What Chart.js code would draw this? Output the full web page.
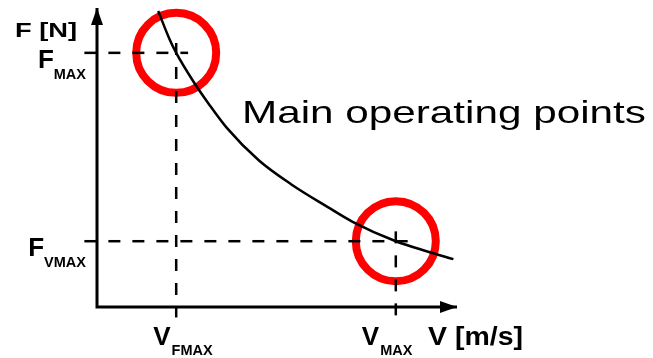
<!DOCTYPE html>
<html>
<head>
<meta charset="utf-8">
<script src="https://cdn.jsdelivr.net/npm/chart.js@4.4.0/dist/chart.umd.min.js"></script>
<style>
html, body { margin: 0; padding: 0; background: #fff; }
#wrap { width: 653px; height: 358px; }
</style>
</head>
<body>
<div id="wrap"><canvas id="chart" width="653" height="358"></canvas></div>
<script>
// force-speed curve (arbitrary units)
const speed = [1.7, 2.0, 2.2, 2.7, 3.1, 3.6, 4.5, 5.4, 6.4, 7.1, 8.3, 9.2, 9.9];
const force = [9.9, 9.0, 8.5, 7.5, 6.8, 6.0, 4.9, 4.1, 3.35, 2.85, 2.2, 1.85, 1.6];

// the two main operating points
const opSpeed = [2.2, 8.3];
const opForce = [8.5, 2.2];

// tick labels (main letter + subscript)
const fLabels = [['F', 'MAX'], ['F', 'VMAX']];
const vLabels = [['V', 'FMAX'], ['V', 'MAX']];
const yTitle = 'F [N]';
const xTitle = 'V [m/s]';
const note = 'Main operating points';

const axisMax = 10;
const tickOut = 0.35;   // how far the guides cross the axes
const overrun = 0.33;   // how far the guides go past the point

const FONT = '"Liberation Sans", Arial, sans-serif';
function font(size, bold) {
    return (bold === false ? '' : 'bold ') + size + 'px ' + FONT;
}

// arrow head image, tip sits at the centre of the canvas
function makeArrow() {
    const c = document.createElement('canvas');
    c.width = 12;
    c.height = 34;
    const g = c.getContext('2d');
    g.fillStyle = '#000';
    g.beginPath();
    g.moveTo(6, 17);
    g.lineTo(12, 34);
    g.lineTo(0, 34);
    g.closePath();
    g.fill();
    return c;
}
const arrowImg = makeArrow();

// dashed guides from the axes to each operating point
const guides = [];
opSpeed.forEach(function(v, i) {
    const f = opForce[i];
    guides.push([{ x: -tickOut, y: f }, { x: v + overrun, y: f }]);
    guides.push([{ x: v, y: f + overrun }, { x: v, y: -tickOut }]);
});

const datasets = [];

datasets.push({
    label: 'curve',
    data: speed.map(function(v, i) { return { x: v, y: force[i] }; }),
    showLine: true,
    borderColor: '#000',
    borderWidth: 2.5,
    pointRadius: 0,
    cubicInterpolationMode: 'monotone',
    clip: false,
    order: 0
});

guides.forEach(function(g) {
    datasets.push({
        label: 'guide',
        data: g,
        showLine: true,
        borderColor: '#000',
        borderWidth: 2.5,
        borderDash: [12, 12],
        pointRadius: 0,
        clip: false,
        order: 1
    });
});

datasets.push({
    label: 'axes',
    data: [{ x: 0, y: axisMax }, { x: 0, y: 0 }, { x: axisMax, y: 0 }],
    showLine: true,
    borderColor: '#000',
    borderWidth: 3,
    pointRadius: 0,
    clip: false,
    order: 1
});

datasets.push({
    label: 'arrows',
    data: [{ x: 0, y: axisMax }, { x: axisMax, y: 0 }],
    pointStyle: arrowImg,
    pointRadius: 5,
    pointRotation: [0, 90],
    clip: false,
    order: 0
});

datasets.push({
    label: 'operating points',
    data: opSpeed.map(function(v, i) { return { x: v, y: opForce[i] }; }),
    pointStyle: 'circle',
    pointRadius: 40,
    pointBorderWidth: 8,
    pointBorderColor: '#ff0000',
    pointBackgroundColor: 'rgba(0,0,0,0)',
    clip: false,
    order: 2
});

const textPlugin = {
    id: 'axisText',
    afterDraw(chart) {
        const ctx = chart.ctx;
        const xs = chart.scales.x, ys = chart.scales.y;
        const ax = xs.getPixelForValue(0), ay = ys.getPixelForValue(0);
        ctx.save();
        ctx.fillStyle = '#000';
        ctx.textBaseline = 'alphabetic';
        ctx.textAlign = 'left';

        // force labels, right of them sits the axis
        opForce.forEach(function(f, i) {
            const py = ys.getPixelForValue(f);
            const main = fLabels[i][0], sub = fLabels[i][1];
            ctx.font = font(26);
            const wm = ctx.measureText(main).width;
            ctx.font = font(14.5);
            const ws = ctx.measureText(sub).width;
            const left = ax - 11 - ws - wm;
            ctx.font = font(26);
            ctx.fillText(main, left, py + 15);
            ctx.font = font(14.5);
            ctx.fillText(sub, left + wm, py + 26);
        });

        // speed labels under the axis
        const nudge = [-23, -34];
        opSpeed.forEach(function(v, i) {
            const px = xs.getPixelForValue(v);
            const main = vLabels[i][0], sub = vLabels[i][1];
            const left = px + nudge[i];
            ctx.font = font(26);
            const wm = ctx.measureText(main).width;
            ctx.fillText(main, left, ay + 38);
            ctx.font = font(14.5);
            ctx.fillText(sub, left + wm + 1, ay + 48);
        });

        // axis titles
        ctx.save();
        ctx.translate(ax - 82, 37);
        ctx.scale(1.3, 1);
        ctx.font = font(21);
        ctx.fillText(yTitle, 0, 0);
        ctx.restore();

        ctx.save();
        ctx.translate(428, ay + 38);
        ctx.scale(1.14, 1);
        ctx.font = font(25);
        ctx.fillText(xTitle, 0, 0);
        ctx.restore();

        // annotation
        ctx.save();
        ctx.translate(242, 123);
        ctx.scale(1.32, 1);
        ctx.font = font(32, false);
        ctx.fillText(note, 0, 0);
        ctx.restore();

        ctx.restore();
    }
};

const chart = new Chart(document.getElementById('chart'), {
    type: 'scatter',
    data: { datasets: datasets },
    options: {
        responsive: false,
        animation: false,
        events: [],
        layout: {
            autoPadding: false,
            padding: { left: 97, right: 196, top: 8, bottom: 51 }
        },
        scales: {
            x: { type: 'linear', min: 0, max: axisMax, display: false },
            y: { type: 'linear', min: 0, max: axisMax, display: false }
        },
        plugins: {
            legend: { display: false },
            tooltip: { enabled: false }
        }
    },
    plugins: [textPlugin]
});
</script>
</body>
</html>
